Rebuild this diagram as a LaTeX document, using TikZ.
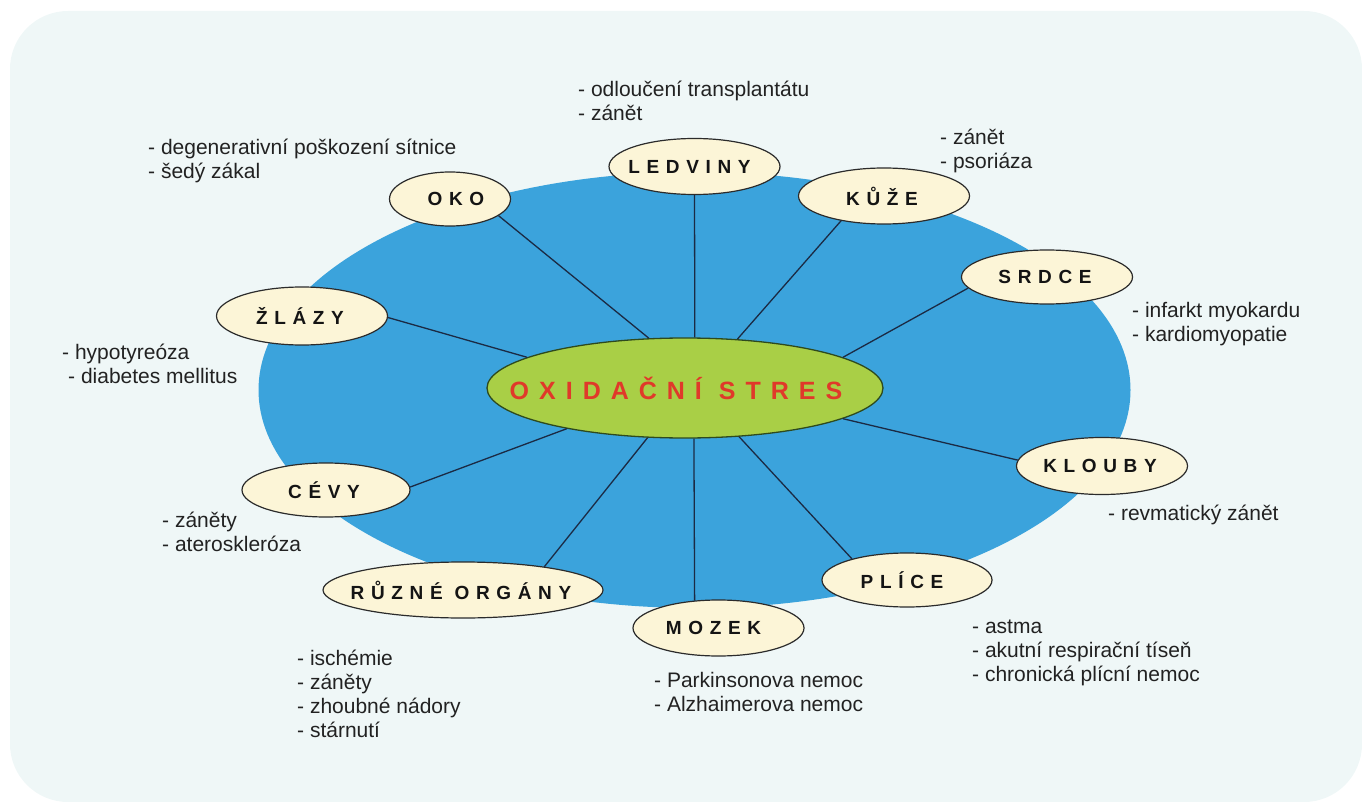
\documentclass[tikz,border=0pt]{standalone}
\usepackage{fontspec}
\setmainfont{Liberation Sans}
\newfontfamily\titlefont[LetterSpace=35]{Liberation Sans Bold}
\newfontfamily\oxfont[LetterSpace=40]{Liberation Sans Bold}
\usetikzlibrary{shapes.geometric}
\definecolor{bgc}{HTML}{EFF7F7}
\definecolor{bluec}{HTML}{3BA3DC}
\definecolor{greenc}{HTML}{A9CF46}
\definecolor{greenedge}{HTML}{2E4A1E}
\definecolor{redc}{HTML}{E0392A}
\definecolor{creamc}{HTML}{FCF5D7}
\definecolor{edgec}{HTML}{2B2B2B}
\definecolor{textc}{HTML}{222222}
\definecolor{titlec}{HTML}{141414}
\definecolor{linec}{HTML}{1B2A44}
\newcommand{\zb}[2][-4pt]{\makebox[0pt][c]{\hspace*{#1}#2}}
\tikzset{
  organ/.style={ellipse, draw=edgec, fill=creamc, line width=1.2pt, inner sep=0pt,
    minimum width=171pt, minimum height=56pt, text=titlec,
    font=\titlefont\fontsize{19}{19}\selectfont},
  center/.style={ellipse, draw=greenedge, fill=greenc, line width=1.3pt, inner sep=0pt,
    minimum width=396pt, minimum height=100pt, text=redc,
    font=\oxfont\fontsize{25}{25}\selectfont},
  lbl/.style={anchor=base west, align=left, inner sep=0pt, text=textc,
    font=\fontsize{21}{24}\selectfont},
  conn/.style={draw=linec, line width=1.3pt}
}
\begin{document}
\begin{tikzpicture}[x=1pt,y=-1pt]
\useasboundingbox (0,0) rectangle (1362,802);
\fill[bgc, rounded corners=58pt] (10,11) rectangle (1362,802);
\fill[bluec] (694.5,390) ellipse [x radius=436, y radius=218];

\node[center] (ox) at (685,388) {\zb[-18pt]{OXIDAČNÍ STRES}};

\node[organ] (led) at (694.5,166.5) {\zb[-10pt]{LEDVINY}};
\node[organ, minimum width=121pt, minimum height=54pt] (oko) at (450,199) {\zb[12pt]{OKO}};
\node[organ] (kuze) at (884,196) {\zb{KŮŽE}};
\node[organ, minimum height=54pt] (srdce) at (1047,277) {\zb{SRDCE}};
\node[organ, minimum height=58pt] (zlazy) at (302,316) {\zb{ŽLÁZY}};
\node[organ, minimum height=57pt] (klouby) at (1102,466) {\zb{KLOUBY}};
\node[organ, minimum width=168pt, minimum height=54pt] (cevy) at (326,490) {\zb{CÉVY}};
\node[organ, minimum width=280pt] (ruzne) at (463,590) {\zb{RŮZNÉ ORGÁNY}};
\node[organ] (mozek) at (718.5,628) {\zb[-10pt]{MOZEK}};
\node[organ, minimum width=170pt, minimum height=54pt] (plice) at (907,580) {\zb[-10pt]{PLÍCE}};

\draw[conn] (led.south) -- (ox.79);
\draw[conn] (oko.-19) -- (ox.126);
\draw[conn] (kuze.-150) -- (ox.43);
\draw[conn] (srdce.188) -- (ox.11);
\draw[conn] (zlazy.-1) -- (ox.169);
\draw[conn] (klouby.176) -- (ox.-11);
\draw[conn] (cevy.2) -- (ox.199);
\draw[conn] (ruzne.16) -- (ox.-127);
\draw[conn] (mozek.131) -- (ox.-80);
\draw[conn] (plice.159) -- (ox.-42);

\node[lbl] (tled) at (578,121) {- odloučení transplantátu\\- zánět};
\node[lbl] (toko) at (148,179) {- degenerativní poškození sítnice\\- šedý zákal};
\node[lbl] (tkuze) at (940,169) {- zánět\\- psoriáza};
\node[lbl] (tsrdce) at (1132,341) {- infarkt myokardu\\- kardiomyopatie};
\node[lbl] (tzlazy) at (62,383) {- hypotyreóza\\\hspace*{6pt}- diabetes mellitus};
\node[lbl] (tklouby) at (1108,520) {- revmatický zánět};
\node[lbl] (tcevy) at (162,551) {- záněty\\- ateroskleróza};
\node[lbl] (truzne) at (297,737) {- ischémie\\- záněty\\- zhoubné nádory\\- stárnutí};
\node[lbl] (tmozek) at (654,711) {- Parkinsonova nemoc\\- Alzhaimerova nemoc};
\node[lbl] (tplice) at (972,681) {- astma\\- akutní respirační tíseň\\- chronická plícní nemoc};
\end{tikzpicture}
\end{document}
